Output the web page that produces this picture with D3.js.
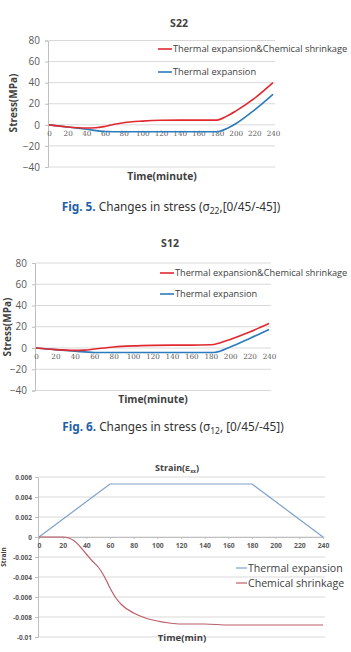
<!DOCTYPE html>
<html>
<head>
<meta charset="utf-8">
<script src="https://cdn.jsdelivr.net/npm/d3@7"></script>
<style>
  html, body { margin: 0; padding: 0; background: #fff; }
  svg { display: block; }
  .tick-lbl { fill: #595959; }
  .caption { font-family: "Noto Sans", sans-serif; font-size: 11.8px; fill: #333; }
  .caption .fig { fill: #1f5fa8; font-weight: bold; }
</style>
</head>
<body>
<svg id="page" width="351" height="652"></svg>
<script>
// ---- data ----
const timeTicks = [0, 20, 40, 60, 80, 100, 120, 140, 160, 180, 200, 220, 240];
const seriesNames = ['Thermal expansion&Chemical shrinkage', 'Thermal expansion'];
const strainNames = ['Thermal expansion', 'Chemical shrinkage'];

// S22 stress (MPa)
const s22CombTime = [0, 20, 40, 50, 60, 70, 80, 100, 120, 140, 160, 180, 190, 200, 220, 240];
const s22Comb     = [0, -2, -3, -2.8, -1.5, 0.5, 2, 3.5, 4.3, 4.5, 4.5, 4.5, 8, 13, 25, 40];
const s22ThermTime = [0, 20, 40, 60, 80, 100, 120, 140, 160, 180, 185, 200, 220, 240];
const s22Therm     = [0, -2, -4.2, -6.3, -6.5, -6.5, -6.5, -6.5, -6.5, -6.5, -5.5, 1, 14, 29];

// S12 stress (MPa)
const s12CombTime = [0, 20, 40, 50, 60, 80, 100, 120, 140, 160, 180, 190, 200, 220, 240];
const s12Comb     = [0, -1.5, -2.2, -2, -1, 1, 2, 2.5, 2.7, 2.7, 3, 5, 8, 15, 23];
const s12ThermTime = [0, 20, 40, 60, 80, 100, 120, 140, 160, 180, 185, 200, 220, 240];
const s12Therm     = [0, -1.5, -3, -4.2, -4.3, -4.3, -4.3, -4.3, -4.3, -4.3, -4, 1, 9, 17.5];

const stressTicks = [-40, -20, 0, 20, 40, 60, 80];

// Strain
const thermStrainTime = [0, 60, 180, 240];
const thermStrain     = [0, 0.0053, 0.0053, 0];
const chemStrainTime = [0, 20, 25, 30, 35, 40, 45, 50, 55, 60, 65, 70, 80, 90, 100, 110, 120, 140, 160, 200, 240];
const chemStrain     = [0, 0, -0.0001, -0.0004, -0.001, -0.0017, -0.0024, -0.003, -0.0039, -0.0051, -0.0061, -0.0068, -0.0076, -0.0081, -0.0084, -0.0086, -0.0087, -0.0087, -0.0088, -0.0088, -0.0088];
const strainTicks = [-0.01, -0.008, -0.006, -0.004, -0.002, 0, 0.002, 0.004, 0.006];
const strainTickLabels = ['-0.01', '-0.008', '-0.006', '-0.004', '-0.002', '0', '0.002', '0.004', '0.006'];

const RED = '#e0282e', BLUE = '#2b7bbd';
const BLUE2 = '#7f9fcb', ROSE = '#be5d6b';
const GRID = '#d9d9d9', AXIS = '#bfbfbf';
const FONT = '"Open Sans", "DejaVu Sans", sans-serif';

const svg = d3.select('#page');

function zip(t, v) { return t.map((d, i) => [d, v[i]]); }

// generic stress chart
function stressChart(opt) {
	const g = svg.append('g');
	const x = d3.scaleLinear().domain([0, 240]).range([opt.x0, opt.x1]);
	const y = d3.scaleLinear().domain([-40, 80]).range([opt.yBot, opt.yTop]);

	// gridlines
	g.append('g').selectAll('line').data(stressTicks).enter().append('line')
		.attr('x1', opt.x0).attr('x2', opt.x1 + 2)
		.attr('y1', d => y(d)).attr('y2', d => y(d))
		.attr('stroke', GRID).attr('stroke-width', 1);

	// y axis
	const ya = g.append('g').attr('transform', `translate(${opt.x0 - 1},0)`)
		.call(d3.axisLeft(y).tickValues(stressTicks).tickSize(3).tickPadding(5));
	ya.select('.domain').attr('stroke', AXIS);
	ya.selectAll('.tick line').attr('stroke', AXIS);
	ya.selectAll('.tick text').attr('class', 'tick-lbl')
		.style('font-family', FONT).style('font-size', '10px');

	// x tick labels sitting under the zero line
	const xa = g.append('g').attr('transform', `translate(0,${y(0)})`)
		.call(d3.axisBottom(x).tickValues(timeTicks).tickSize(0).tickPadding(6));
	xa.select('.domain').remove();
	xa.selectAll('.tick text').attr('class', 'tick-lbl')
		.style('font-family', '"DejaVu Serif", serif').style('font-size', '7.2px');

	const line = d3.line().x(d => x(d[0])).y(d => y(d[1])).curve(d3.curveMonotoneX);
	g.append('path').datum(zip(opt.thermT, opt.therm))
		.attr('d', line).attr('fill', 'none').attr('stroke', BLUE).attr('stroke-width', 1.6);
	g.append('path').datum(zip(opt.combT, opt.comb))
		.attr('d', line).attr('fill', 'none').attr('stroke', RED).attr('stroke-width', 1.6);

	// title
	g.append('text').attr('x', opt.titleX).attr('y', opt.titleY)
		.attr('text-anchor', 'middle').style('font-family', FONT)
		.style('font-size', '10.5px').style('font-weight', 'bold').attr('fill', '#404040')
		.text(opt.title);

	// y label
	g.append('text').attr('transform', `translate(${opt.ylabX},${opt.ylabY}) rotate(-90)`)
		.attr('text-anchor', 'middle').style('font-family', FONT)
		.style('font-size', '10px').style('font-weight', 'bold').attr('fill', '#404040')
		.text('Stress(MPa)');

	// x label
	g.append('text').attr('x', opt.xlabX).attr('y', opt.xlabY)
		.attr('text-anchor', 'middle').style('font-family', FONT)
		.style('font-size', '10.3px').style('font-weight', 'bold').attr('fill', '#404040')
		.text('Time(minute)');

	// legend
	const cols = [RED, BLUE];
	seriesNames.forEach((name, i) => {
		const ly = opt.legY + i * opt.legGap;
		g.append('line').attr('x1', opt.legX).attr('x2', opt.legX + 14)
			.attr('y1', ly).attr('y2', ly).attr('stroke', cols[i]).attr('stroke-width', 1.6);
		g.append('text').attr('x', opt.legX + 15).attr('y', ly + 3.4)
			.style('font-family', FONT).style('font-size', opt.legFont).attr('fill', '#404040')
			.text(name);
	});
}

function caption(cx, cy, num, sub, rest) {
	const t = svg.append('text').attr('class', 'caption').attr('x', cx).attr('y', cy)
		.attr('text-anchor', 'middle');
	t.append('tspan').attr('class', 'fig').text(`Fig. ${num}.`);
	t.append('tspan').text(' Changes in stress (σ');
	t.append('tspan').attr('dy', 3).style('font-size', '8.5px').text(sub);
	t.append('tspan').attr('dy', -3).text(rest);
}

stressChart({
	x0: 49, x1: 273, yTop: 40.5, yBot: 167,
	thermT: s22ThermTime, therm: s22Therm, combT: s22CombTime, comb: s22Comb,
	title: 'S22', titleX: 179, titleY: 27,
	ylabX: 17, ylabY: 103, xlabX: 162, xlabY: 180,
	legX: 158, legY: 49, legGap: 23, legFont: '9.3px'
});
caption(171, 211, 5, '22', ',[0/45/-45])');

stressChart({
	x0: 36, x1: 269, yTop: 263, yBot: 390.5,
	thermT: s12ThermTime, therm: s12Therm, combT: s12CombTime, comb: s12Comb,
	title: 'S12', titleX: 170, titleY: 247,
	ylabX: 10.5, ylabY: 327, xlabX: 153, xlabY: 403,
	legX: 160, legY: 273, legGap: 21, legFont: '9.2px'
});
caption(173, 431, 6, '12', ', [0/45/-45])');

// ---- strain chart ----
(function strainChart() {
	const g = svg.append('g');
	const x = d3.scaleLinear().domain([0, 240]).range([39, 323]);
	const y = d3.scaleLinear().domain([-0.01, 0.006]).range([637, 477]);

	g.append('g').selectAll('line').data(strainTicks).enter().append('line')
		.attr('x1', 39).attr('x2', 325)
		.attr('y1', d => y(d)).attr('y2', d => y(d))
		.attr('stroke', GRID).attr('stroke-width', 1);

	const ya = g.append('g').attr('transform', 'translate(38,0)')
		.call(d3.axisLeft(y).tickValues(strainTicks).tickSize(3).tickPadding(3)
			.tickFormat((d, i) => strainTickLabels[i]));
	ya.select('.domain').attr('stroke', AXIS);
	ya.selectAll('.tick line').attr('stroke', AXIS);
	ya.selectAll('.tick text').attr('class', 'tick-lbl')
		.style('font-family', FONT).style('font-size', '6.5px').style('font-weight', 'bold');

	const xa = g.append('g').attr('transform', `translate(0,${y(0)})`)
		.call(d3.axisBottom(x).tickValues(timeTicks).tickSize(2).tickPadding(4));
	xa.select('.domain').attr('stroke', AXIS);
	xa.selectAll('.tick line').attr('stroke', AXIS);
	xa.selectAll('.tick text').attr('class', 'tick-lbl')
		.style('font-family', FONT).style('font-size', '6.8px').style('font-weight', 'bold');

	const line = d3.line().x(d => x(d[0])).y(d => y(d[1]));
	g.append('path').datum(zip(thermStrainTime, thermStrain))
		.attr('d', line).attr('fill', 'none').attr('stroke', BLUE2).attr('stroke-width', 1.2);
	g.append('path').datum(zip(chemStrainTime, chemStrain))
		.attr('d', line.curve(d3.curveMonotoneX)).attr('fill', 'none')
		.attr('stroke', ROSE).attr('stroke-width', 1.2);

	const title = g.append('text').attr('x', 177).attr('y', 471).attr('text-anchor', 'middle')
		.style('font-family', FONT).style('font-size', '9px').style('font-weight', 'bold')
		.attr('fill', '#404040');
	title.append('tspan').text('Strain(ε');
	title.append('tspan').attr('dy', 1.5).style('font-size', '5px').text('xx');
	title.append('tspan').attr('dy', -1.5).text(')');

	g.append('text').attr('transform', 'translate(6,557) rotate(-90)')
		.attr('text-anchor', 'middle').style('font-family', FONT)
		.style('font-size', '6.5px').style('font-weight', 'bold').attr('fill', '#404040')
		.text('Strain');

	g.append('text').attr('x', 182).attr('y', 641).attr('text-anchor', 'middle')
		.style('font-family', FONT).style('font-size', '9.5px').style('font-weight', 'bold')
		.attr('fill', '#404040').text('Time(min)');

	const cols = [BLUE2, ROSE];
	strainNames.forEach((name, i) => {
		const ly = 568 + i * 15;
		g.append('line').attr('x1', 236).attr('x2', 247).attr('y1', ly).attr('y2', ly)
			.attr('stroke', cols[i]).attr('stroke-width', 1.2);
		g.append('text').attr('x', 248).attr('y', ly + 3.5)
			.style('font-family', FONT).style('font-size', '10.6px').attr('fill', '#404040')
			.text(name);
	});
})();
</script>
</body>
</html>
